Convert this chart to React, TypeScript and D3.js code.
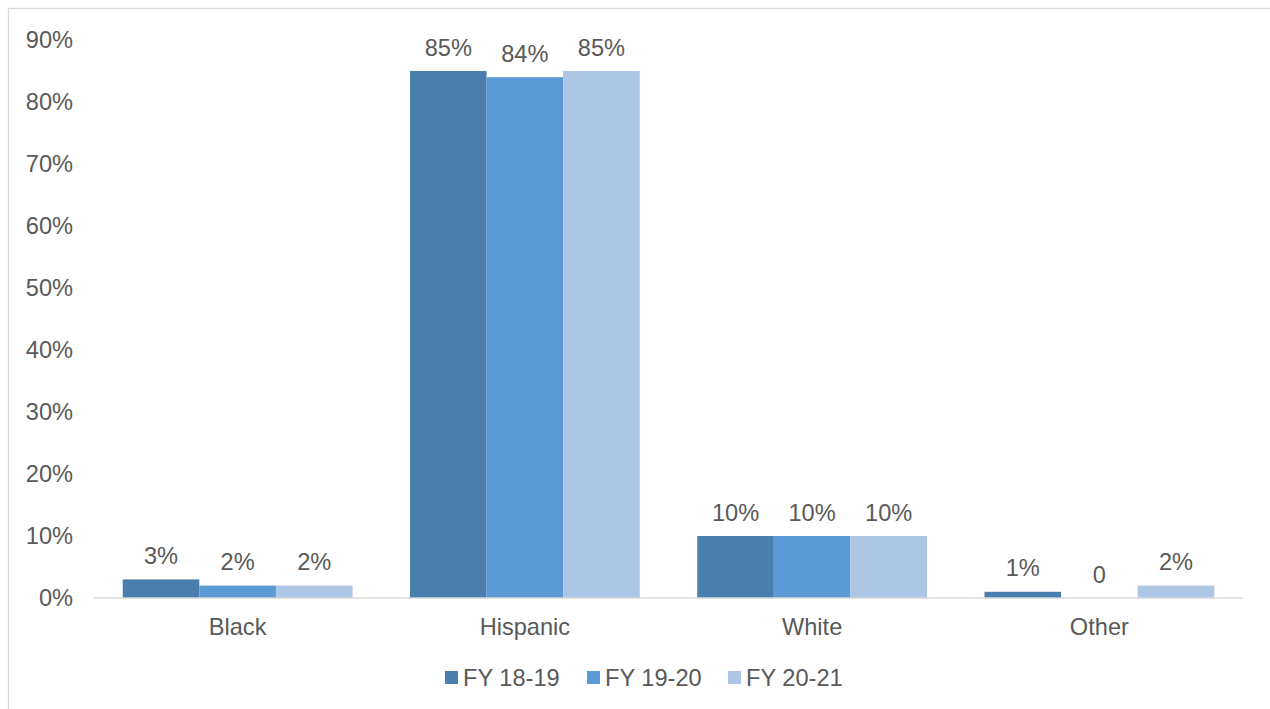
import React from "react";
import * as d3 from "d3";

const categories = ["Black", "Hispanic", "White", "Other"];
const seriesNames = ["FY 18-19", "FY 19-20", "FY 20-21"];
const fy1819 = [3, 85, 10, 1];
const fy1920 = [2, 84, 10, 0];
const fy2021 = [2, 85, 10, 2];
const labels1819 = ["3%", "85%", "10%", "1%"];
const labels1920 = ["2%", "84%", "10%", "0"];
const labels2021 = ["2%", "85%", "10%", "2%"];
const yTicks = [0, 10, 20, 30, 40, 50, 60, 70, 80, 90];
const colors = ["#4a7ead", "#5b9bd5", "#adc6e6"];

const series = [
  { name: seriesNames[0], values: fy1819, labels: labels1819, color: colors[0] },
  { name: seriesNames[1], values: fy1920, labels: labels1920, color: colors[1] },
  { name: seriesNames[2], values: fy2021, labels: labels2021, color: colors[2] },
];

const W = 1270;
const H = 709;
const plotLeft = 94;
const plotRight = 1243;
const plotTop = 40;
const plotBottom = 598;
const font = "'Liberation Sans', Arial, sans-serif";
const textColor = "#595959";
const fs = 23.6;

export default function App() {
  const x0 = d3.scaleBand<string>().domain(categories).range([plotLeft, plotRight]).paddingInner(0).paddingOuter(0);
  const groupW = x0.bandwidth() * (3 / 3.75);
  const x1 = d3
    .scaleBand<string>()
    .domain(seriesNames)
    .range([0, groupW])
    .padding(0);
  const y = d3.scaleLinear().domain([0, 90]).range([plotBottom, plotTop]);
  const offset = (x0.bandwidth() - groupW) / 2;

  const legendItems = [
    { sx: 445, tx: 463 },
    { sx: 587, tx: 605 },
    { sx: 728, tx: 746 },
  ];

  return (
    <svg
      width={W}
      height={H}
      style={{ position: "absolute", left: 0, top: 0, display: "block" }}
      fontFamily={font}
    >
      <rect x={0} y={0} width={W} height={H} fill="#ffffff" />
      <rect x={8.5} y={8.5} width={1290} height={720} fill="none" stroke="#d9d9d9" strokeWidth={1.3} />
      {yTicks.map((t) => (
        <text
          key={t}
          x={73}
          y={y(t)}
          dy="0.36em"
          textAnchor="end"
          fontSize={fs}
          fill={textColor}
        >
          {t}%
        </text>
      ))}
      {categories.map((c, i) => (
        <g key={c}>
          {series.map((s) => {
            const bx = (x0(c) as number) + offset + (x1(s.name) as number);
            const by = y(s.values[i]);
            return (
              <g key={s.name}>
                <rect
                  x={bx}
                  y={by}
                  width={x1.bandwidth()}
                  height={plotBottom - by}
                  fill={s.color}
                />
                <text
                  x={bx + x1.bandwidth() / 2}
                  y={by - 15.5}
                  textAnchor="middle"
                  fontSize={fs}
                  fill={textColor}
                >
                  {s.labels[i]}
                </text>
              </g>
            );
          })}
          <text
            x={(x0(c) as number) + x0.bandwidth() / 2}
            y={635}
            textAnchor="middle"
            fontSize={fs}
            fill={textColor}
          >
            {c}
          </text>
        </g>
      ))}
      <line x1={plotLeft} x2={plotRight} y1={plotBottom} y2={plotBottom} stroke="#d9d9d9" strokeWidth={1.5} />
      {series.map((s, i) => (
        <g key={s.name}>
          <rect x={legendItems[i].sx} y={671} width={13} height={13} fill={s.color} />
          <text x={legendItems[i].tx} y={678} dy="0.36em" fontSize={fs} fill={textColor}>
            {s.name}
          </text>
        </g>
      ))}
    </svg>
  );
}
